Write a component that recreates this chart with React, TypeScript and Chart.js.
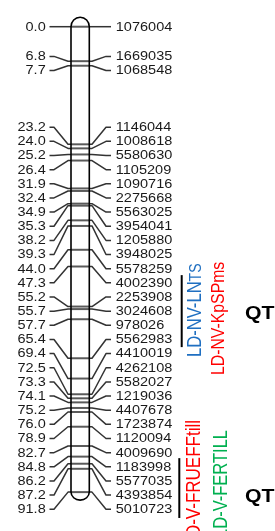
import React, { useEffect, useRef } from "react";
import { Chart, registerables } from "chart.js";

Chart.register(...registerables);

// ---- Data ----
const positions: number[] = [
  0.0, 6.8, 7.7, 23.2, 24.0, 25.2, 26.4, 31.9, 32.4, 34.9, 35.3, 38.2, 39.3, 44.0, 47.3,
  55.2, 55.7, 57.7, 65.4, 69.4, 72.5, 73.3, 74.1, 75.2, 76.0, 78.9, 82.7, 84.8, 86.2, 87.2, 91.8,
];
const markers: string[] = [
  "1076004", "1669035", "1068548", "1146044", "1008618", "5580630", "1105209", "1090716",
  "2275668", "5563025", "3954041", "1205880", "3948025", "5578259", "4002390", "2253908",
  "3024608", "978026", "5562983", "4410019", "4262108", "5582027", "1219036", "4407678",
  "1723874", "1120094", "4009690", "1183998", "5577035", "4393854", "5010723",
];
const qtlStart: number[] = [49.0, 85.1];
const qtlEnd: number[] = [63.2, 96.9];
const upperTraits: string[] = ["LD-NV-LN", "LD-NV-KpSPms"];
const upperTraitSuffix: string[] = ["TS", ""];
const lowerTraits: string[] = ["LD-V-FRUEFFtill", "LD-V-FERTILL"];
const traitColors: string[] = ["#1f6fc1", "#ff0000", "#ff0000", "#00b050"];
const qtlLabel = "QTL";

// ---- Layout constants ----
const W = 275;
const H = 531;
const BAR_L = 71;
const BAR_R = 89.3;
const SX = 1.18; // horizontal stretch of text
const LABEL_SP = 14.15;

function spread(desired: number[], sp: number): number[] {
  let groups = desired.map((_, i) => ({ i0: i, i1: i }));
  const firstOf = (g: { i0: number; i1: number }) => {
    const n = g.i1 - g.i0 + 1;
    const c = (desired[g.i0] + desired[g.i1]) / 2;
    return c - ((n - 1) / 2) * sp;
  };
  let merged = true;
  while (merged) {
    merged = false;
    for (let k = 0; k < groups.length - 1; k++) {
      const a = groups[k];
      const b = groups[k + 1];
      const aLast = firstOf(a) + (a.i1 - a.i0) * sp;
      if (firstOf(b) < aLast + sp) {
        groups.splice(k, 2, { i0: a.i0, i1: b.i1 });
        merged = true;
        break;
      }
    }
  }
  const out: number[] = [];
  groups.forEach((g) => {
    const f = firstOf(g);
    for (let i = g.i0; i <= g.i1; i++) out.push(f + (i - g.i0) * sp);
  });
  return out;
}

function hText(ctx: CanvasRenderingContext2D, t: string, x: number, y: number, align: CanvasTextAlign) {
  ctx.save();
  ctx.translate(x, y);
  ctx.scale(SX, 1);
  ctx.textAlign = align;
  ctx.fillText(t, 0, 0);
  ctx.restore();
}

function vText(
  ctx: CanvasRenderingContext2D,
  parts: { t: string; size: number }[],
  baseX: number,
  startY: number,
  color: string,
  fromTop: boolean
) {
  ctx.save();
  ctx.fillStyle = color;
  ctx.textBaseline = "alphabetic";
  ctx.textAlign = "left";
  let total = 0;
  parts.forEach((p) => {
    ctx.font = `${p.size}px "Liberation Sans", Arial, sans-serif`;
    total += ctx.measureText(p.t).width;
  });
  const y0 = fromTop ? startY + total : startY;
  ctx.translate(baseX, y0);
  ctx.rotate(-Math.PI / 2);
  ctx.scale(1, SX);
  let x = 0;
  parts.forEach((p) => {
    ctx.font = `${p.size}px "Liberation Sans", Arial, sans-serif`;
    ctx.fillText(p.t, x, 0);
    x += ctx.measureText(p.t).width;
  });
  ctx.restore();
}

const mapPlugin = {
  id: "linkageMap",
  afterDatasetsDraw(chart: any) {
    const ctx: CanvasRenderingContext2D = chart.ctx;
    const ys = chart.scales.y;
    const xs = chart.scales.x;
    const px = (v: number) => xs.getPixelForValue(v);
    const bandY = positions.map((p) => ys.getPixelForValue(p));
    const labY = spread(bandY, LABEL_SP);
    const bl = px(BAR_L);
    const br = px(BAR_R);
    const bc = (bl + br) / 2;
    const hw = (br - bl) / 2;

    ctx.save();
    // connectors
    ctx.strokeStyle = "#333";
    ctx.lineWidth = 1.5;
    ctx.lineJoin = "round";
    for (let i = 0; i < positions.length; i++) {
      const by = bandY[i];
      const ly = labY[i];
      ctx.beginPath();
      ctx.moveTo(px(49.5), ly);
      ctx.lineTo(px(54), ly);
      ctx.lineTo(px(68), by);
      ctx.lineTo(bl, by);
      ctx.stroke();
      ctx.beginPath();
      ctx.moveTo(br, by);
      ctx.lineTo(px(92), by);
      ctx.lineTo(px(106), ly);
      ctx.lineTo(px(111), ly);
      ctx.stroke();
    }
    // bands
    ctx.strokeStyle = "#5a5a5a";
    ctx.lineWidth = 2;
    for (let i = 0; i < positions.length; i++) {
      ctx.beginPath();
      ctx.moveTo(bl, bandY[i]);
      ctx.lineTo(br, bandY[i]);
      ctx.stroke();
    }
    // chromosome outline
    const yTop = ys.getPixelForValue(positions[0]);
    const yBot = ys.getPixelForValue(positions[positions.length - 1]);
    ctx.strokeStyle = "#000";
    ctx.lineWidth = 1.6;
    ctx.beginPath();
    ctx.moveTo(bl, yBot);
    ctx.lineTo(bl, yTop);
    ctx.ellipse(bc, yTop, hw, 9.5, 0, Math.PI, 0, false);
    ctx.lineTo(br, yBot);
    ctx.ellipse(bc, yBot, hw, 8, 0, 0, Math.PI, false);
    ctx.stroke();

    // labels
    ctx.fillStyle = "#1a1a1a";
    ctx.font = '12.3px "Liberation Sans", Arial, sans-serif';
    ctx.textBaseline = "middle";
    for (let i = 0; i < positions.length; i++) {
      hText(ctx, positions[i].toFixed(1), px(45.7), labY[i] + 0.5, "right");
      hText(ctx, markers[i], px(115.8), labY[i] + 0.5, "left");
    }

    // QTL bars
    ctx.strokeStyle = "#000";
    ctx.lineWidth = 2;
    const qx = [181.7, 179.3];
    for (let q = 0; q < qtlStart.length; q++) {
      ctx.beginPath();
      ctx.moveTo(px(qx[q]), ys.getPixelForValue(qtlStart[q]));
      ctx.lineTo(px(qx[q]), ys.getPixelForValue(qtlEnd[q]));
      ctx.stroke();
    }

    // trait names (upper)
    vText(ctx, [{ t: upperTraits[0], size: 16.6 }, { t: upperTraitSuffix[0], size: 14 }], px(200.7), 357, traitColors[0], false);
    vText(ctx, [{ t: upperTraits[1], size: 15.8 }], px(223.8), 375, traitColors[1], false);
    // trait names (lower)
    vText(ctx, [{ t: lowerTraits[0], size: 17 }], px(200), 420, traitColors[2], true);
    vText(ctx, [{ t: lowerTraits[1], size: 16.5 }], px(226.7), 430, traitColors[3], true);

    // QTL headings
    ctx.fillStyle = "#000";
    ctx.font = 'bold 18px "Liberation Sans", Arial, sans-serif';
    ctx.textBaseline = "alphabetic";
    hText(ctx, qtlLabel, px(245), 318.5, "left");
    hText(ctx, qtlLabel, px(245), 502, "left");
    ctx.restore();
  },
};

export default function App() {
  const ref = useRef<HTMLCanvasElement>(null);
  useEffect(() => {
    if (!ref.current) return;
    const chart = new Chart(ref.current, {
      type: "scatter",
      data: {
        datasets: [
          {
            data: positions.map((p) => ({ x: (BAR_L + BAR_R) / 2, y: p })),
            pointRadius: 0,
            showLine: false,
          },
        ],
      },
      options: {
        responsive: false,
        animation: false,
        layout: { padding: 0 },
        plugins: { legend: { display: false }, tooltip: { enabled: false } },
        scales: {
          x: { type: "linear", display: false, min: 0, max: W },
          y: { type: "linear", display: false, min: -5.266, max: 99.47, reverse: true },
        },
      },
      plugins: [mapPlugin],
    });
    return () => chart.destroy();
  }, []);
  return (
    <div style={{ position: "fixed", left: 0, top: 0, width: W, height: H, background: "#fff" }}>
      <canvas ref={ref} width={W} height={H} style={{ display: "block" }} />
    </div>
  );
}
